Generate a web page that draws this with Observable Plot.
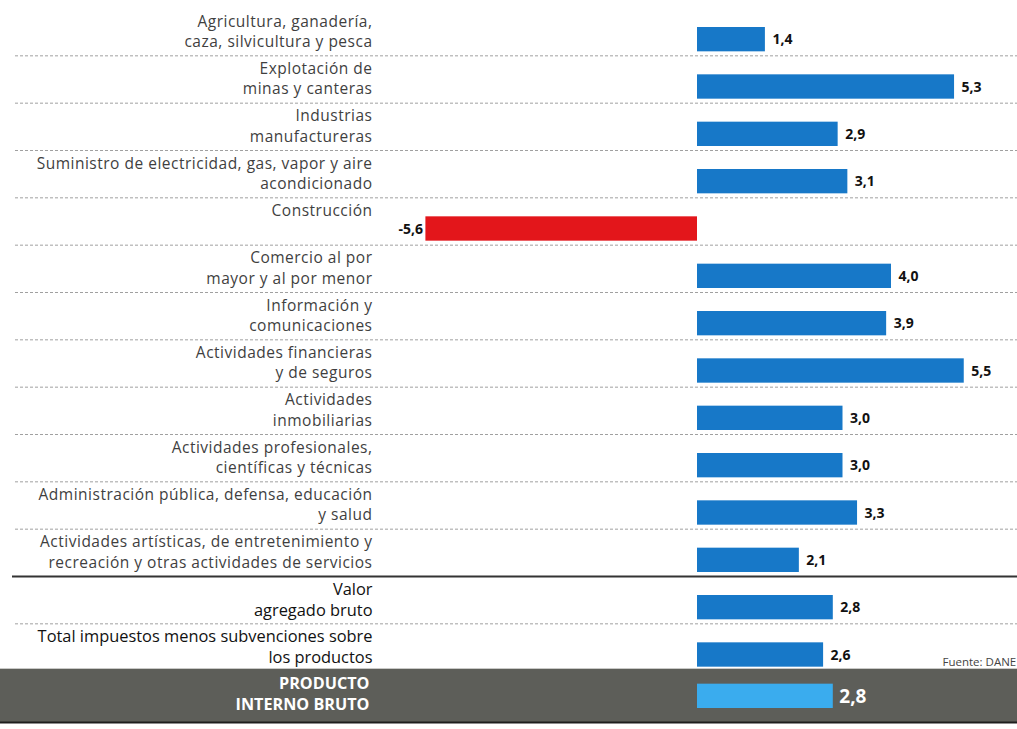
<!DOCTYPE html>
<html>
<head>
<meta charset="utf-8">
<script src="https://cdn.jsdelivr.net/npm/d3@7"></script>
<script src="https://cdn.jsdelivr.net/npm/@observablehq/plot@0.6"></script>
<style>
  html, body { margin: 0; padding: 0; background: #ffffff; }
  #chart svg { display: block; }
  #chart g[font-size="15.5"] text { letter-spacing: 0.5px; }
</style>
</head>
<body>
<div id="chart"></div>
<script>
// ---- Data ----
const categories = [
  "Agricultura, ganadería,\ncaza, silvicultura y pesca",
  "Explotación de\nminas y canteras",
  "Industrias\nmanufactureras",
  "Suministro de electricidad, gas, vapor y aire\nacondicionado",
  "Construcción",
  "Comercio al por\nmayor y al por menor",
  "Información y\ncomunicaciones",
  "Actividades financieras\ny de seguros",
  "Actividades\ninmobiliarias",
  "Actividades profesionales,\ncientíficas y técnicas",
  "Administración pública, defensa, educación\ny salud",
  "Actividades artísticas, de entretenimiento y\nrecreación y otras actividades de servicios",
  "Valor\nagregado bruto",
  "Total impuestos menos subvenciones sobre\nlos productos",
  "PRODUCTO\nINTERNO BRUTO"
];
const values = [1.4, 5.3, 2.9, 3.1, -5.6, 4.0, 3.9, 5.5, 3.0, 3.0, 3.3, 2.1, 2.8, 2.6, 2.8];
const kinds = ["sector","sector","sector","sector","sector","sector","sector","sector","sector","sector","sector","sector","total","total","pib"];
const sourceNote = "Fuente: DANE";

const rows = categories.map((c, i) => ({i, label: c, value: values[i], kind: kinds[i]}));
const sectors = rows.filter(d => d.kind !== "pib");
const pos = sectors.filter(d => d.value >= 0);
const neg = sectors.filter(d => d.value < 0);
const pib = rows.filter(d => d.kind === "pib");
const fmt = v => d3.format(".1f")(v).replace(".", ",").replace("−", "-");

// ---- Layout ----
const W = 1017, H = 729;
const mL = 15, mR = 0, mT = 8, mB = 11;
const zeroX = 697, pxPerUnit = 48.5;
const xDomain = [-(zeroX - mL) / pxPerUnit, (W - mR - zeroX) / pxPerUnit];
const barInsetTop = 19, barInsetBottom = 4;
const labelFont = "'Open Sans', Lato, sans-serif";

const dashedRules = d3.range(1, categories.length).filter(k => k !== 12 && k !== 14);

const labelCommon = {
  y: "i", frameAnchor: "left", dx: 372 - mL, dy: 4,
  text: "label", textAnchor: "end", lineAnchor: "top",
  lineHeight: 1.3, fontSize: 15.5, fontFamily: labelFont
};
const valueCommon = {
  x: "value", y: d => d.i + 1, dy: -(barInsetBottom + 12),
  text: d => fmt(d.value),
  fontWeight: "bold", fontSize: 14, fill: "#111111",
  fontFamily: "'Open Sans', sans-serif"
};

const chart = Plot.plot({
  width: W, height: H,
  marginLeft: mL, marginRight: mR, marginTop: mT, marginBottom: mB,
  x: {domain: xDomain, axis: null},
  y: {domain: [0, categories.length], reverse: true, axis: null},
  style: {fontFamily: labelFont, background: "#ffffff"},
  marks: [
    // PIB band background
    Plot.rectX(pib, {y1: "i", y2: d => d.i + 1, x1: xDomain[0], x2: xDomain[1], fill: "#5d5e59", insetLeft: -mL, insetBottom: -4, insetTop: -2}),
    Plot.ruleY(pib, {y: d => d.i + 1, dy: 4, stroke: "#1e1e1e", strokeWidth: 2, insetLeft: -mL}),
    // separators
    Plot.ruleY(dashedRules, {y: d => d, stroke: "#a0a0a0", strokeWidth: 1, strokeDasharray: "3,2"}),
    Plot.ruleY([12], {y: d => d, stroke: "#333333", strokeWidth: 2, insetLeft: -3}),
    // bars
    Plot.rectX(sectors, {
      x1: 0, x2: "value", y1: "i", y2: d => d.i + 1,
      insetTop: barInsetTop, insetBottom: barInsetBottom,
      fill: d => d.value < 0 ? "#e3161b" : "#1778c8"
    }),
    Plot.rectX(pib, {
      x1: 0, x2: "value", y1: "i", y2: d => d.i + 1,
      insetTop: 13, insetBottom: 10, fill: "#3aacee"
    }),
    // value labels
    Plot.text(pos, {...valueCommon, textAnchor: "start", dx: 7}),
    Plot.text(neg, {...valueCommon, textAnchor: "end", dx: -3}),
    Plot.text(pib, {
      x: "value", y: d => d.i + 1, dy: -22,
      text: d => fmt(d.value),
      textAnchor: "start", dx: 6,
      fontWeight: "bold", fontSize: 19, fill: "#ffffff",
      fontFamily: "'Open Sans', sans-serif"
    }),
    // category labels
    Plot.text(rows.filter(d => d.kind === "sector"), {...labelCommon, fill: "#3f3f3f"}),
    Plot.text(rows.filter(d => d.kind === "total"), {...labelCommon, fontSize: 16.4, dy: 3, fill: "#111111"}),
    Plot.text(pib, {...labelCommon, dx: 369 - mL, fill: "#ffffff", fontWeight: "bold", fontSize: 16.2, dy: 3}),
    // source note
    Plot.text([sourceNote], {
      y: 14, frameAnchor: "right", dx: -75, dy: -9,
      text: d => d, textAnchor: "start", fontSize: 11.5, fill: "#444444"
    })
  ]
});
document.getElementById("chart").appendChild(chart);
</script>
</body>
</html>
